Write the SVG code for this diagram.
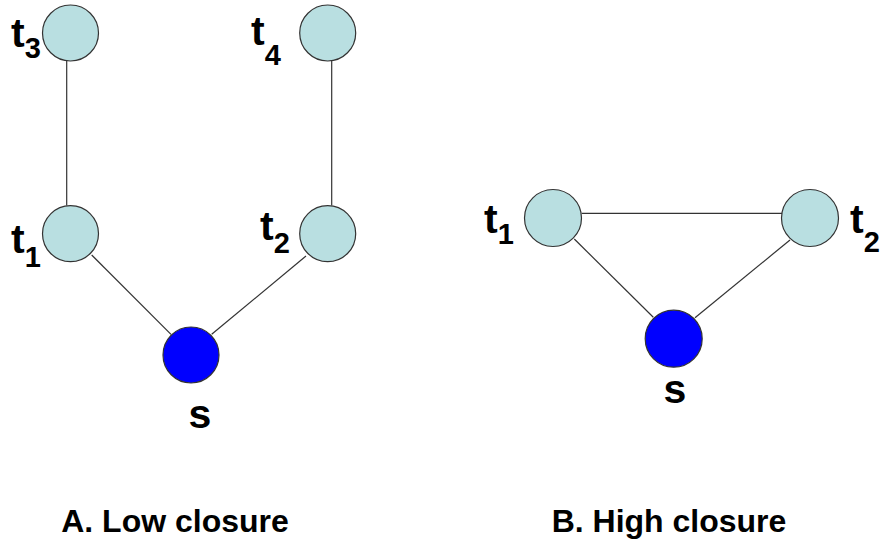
<svg xmlns="http://www.w3.org/2000/svg" width="886" height="542" viewBox="0 0 886 542">
<style>
  .edge { stroke: #333333; stroke-width: 1.2; fill: none; }
  .t { fill: #b9dfe1; stroke: #333333; stroke-width: 1.2; }
  .s { fill: #0000ff; stroke: #333333; stroke-width: 1.2; }
  text { font-family: "Liberation Sans", Arial, sans-serif; font-weight: bold; fill: #000000; }
  .lbl { font-size: 41px; }
  .sub { font-size: 29px; }
  .cap { font-size: 32px; text-anchor: middle; }
</style>
<rect width="886" height="542" fill="#ffffff"/>
<g id="connectors">
  <line class="edge" x1="66.7" y1="61" x2="66.7" y2="205.5"/>
  <line class="edge" x1="331.7" y1="61" x2="331.7" y2="205.5"/>
  <line class="edge" x1="91.7" y1="255" x2="171" y2="334.3"/>
  <line class="edge" x1="306" y1="256" x2="211.7" y2="334.3"/>
  <line class="edge" x1="581.7" y1="213.3" x2="782" y2="213.3"/>
  <line class="edge" x1="574.3" y1="239" x2="653.3" y2="317.3"/>
  <line class="edge" x1="790" y1="240" x2="695" y2="317.7"/>
</g>
<g id="A-t3">
  <circle class="t" cx="70.5" cy="33" r="28"/>
  <text class="lbl" x="11" y="47">t<tspan class="sub" dy="11">3</tspan></text>
</g>
<g id="A-t4">
  <circle class="t" cx="327.7" cy="33" r="28"/>
  <text class="lbl" x="251" y="45">t<tspan class="sub" dy="20">4</tspan></text>
</g>
<g id="A-t1">
  <circle class="t" cx="70.5" cy="233.7" r="28"/>
  <text class="lbl" x="11" y="253">t<tspan class="sub" dy="14">1</tspan></text>
</g>
<g id="A-t2">
  <circle class="t" cx="327.7" cy="233.7" r="28"/>
  <text class="lbl" x="260" y="240">t<tspan class="sub" dy="13">2</tspan></text>
</g>
<g id="A-s">
  <circle class="s" cx="191" cy="355" r="28"/>
  <text class="lbl" x="200" y="428" text-anchor="middle">s</text>
</g>
<g id="B-t1">
  <circle class="t" cx="553" cy="218" r="28.5"/>
  <text class="lbl" x="484" y="233">t<tspan class="sub" dy="11">1</tspan></text>
</g>
<g id="B-t2">
  <circle class="t" cx="810" cy="218" r="28.5"/>
  <text class="lbl" x="850" y="233">t<tspan class="sub" dy="19">2</tspan></text>
</g>
<g id="B-s">
  <circle class="s" cx="673.7" cy="338.7" r="28.5"/>
  <text class="lbl" x="675" y="403" text-anchor="middle">s</text>
</g>
<g id="captions">
  <text class="cap" x="175" y="531.5">A. Low closure</text>
  <text class="cap" x="669" y="532">B. High closure</text>
</g>
</svg>
